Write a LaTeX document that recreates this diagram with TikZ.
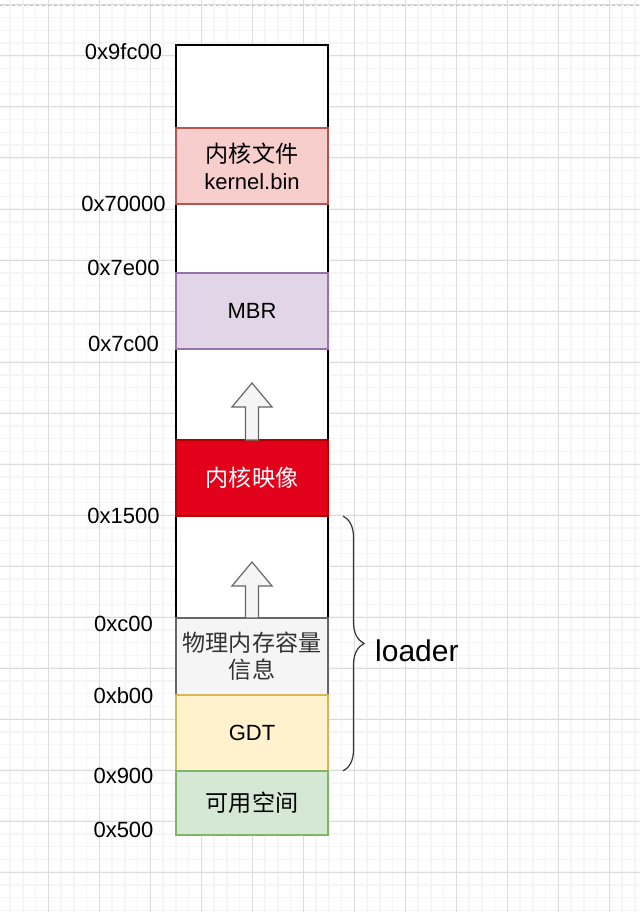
\documentclass[tikz,border=0pt]{standalone}
\usepackage{fontspec}
\setmainfont{Liberation Sans}
\newfontfamily\cjk[Scale=1.05]{Noto Sans CJK SC}
\usetikzlibrary{positioning,decorations.pathreplacing}
\definecolor{pinkfill}{HTML}{F8CECC}
\definecolor{pinkline}{HTML}{B85450}
\definecolor{purplefill}{HTML}{E1D5E7}
\definecolor{purpleline}{HTML}{9673A6}
\definecolor{redfill}{HTML}{E2001A}
\definecolor{redline}{HTML}{B20000}
\definecolor{grayfill}{HTML}{F5F5F5}
\definecolor{grayline}{HTML}{666666}
\definecolor{graytext}{HTML}{333333}
\definecolor{yellowfill}{HTML}{FFF2CC}
\definecolor{yellowline}{HTML}{D6B656}
\definecolor{greenfill}{HTML}{D5E8D4}
\definecolor{greenline}{HTML}{82B366}
\definecolor{gridminor}{HTML}{F5F5F5}
\definecolor{gridmajor}{HTML}{DCDCDC}
\pgfdeclarelayer{bg}
\pgfsetlayers{bg,main}
\tikzstyle{seg} = [rectangle, minimum width=152pt, minimum height=76pt, inner sep=0pt, outer sep=0pt, line width=1.2pt, text centered, align=center, font=\fontsize{22}{27}\selectfont]
\tikzstyle{free} = [seg, draw=black, fill=white]
\tikzstyle{pinkseg} = [seg, draw=pinkline, fill=pinkfill]
\tikzstyle{purpleseg} = [seg, draw=purpleline, fill=purplefill]
\tikzstyle{redseg} = [seg, draw=redline, fill=redfill, text=white]
\tikzstyle{grayseg} = [seg, draw=grayline, fill=grayfill, text=graytext]
\tikzstyle{yellowseg} = [seg, draw=yellowline, fill=yellowfill]
\tikzstyle{greenseg} = [seg, draw=greenline, fill=greenfill]
\tikzstyle{addr} = [inner sep=0pt, font=\fontsize{22}{27}\selectfont]
\tikzstyle{blockarrow} = [draw=grayline, fill=grayfill, line width=1.2pt]
\tikzstyle{bracket} = [draw=graytext, line width=1.2pt, decorate, decoration={brace, amplitude=21pt}]

\begin{document}
\begin{tikzpicture}[x=1pt, y=-1pt]
\useasboundingbox (0,0) rectangle (640,912);

\begin{pgfonlayer}{bg}
\fill[white] (0,0) rectangle (640,912);
% grid
\foreach \i in {0,...,51} \draw[gridminor, line width=1.5pt] ({-2.7+12.75*\i},0) -- ++(0,912);
\foreach \j in {0,...,71} \draw[gridminor, line width=1.5pt] (0,{5+12.75*\j}) -- ++(640,0);
\foreach \i in {0,...,12} \draw[gridmajor, line width=1pt] ({-2.7+51*\i},0) -- ++(0,912);
\foreach \j in {0,...,17} \draw[gridmajor, line width=1pt] (0,{5+51*\j}) -- ++(640,0);
\draw[gray!50, dashed, line width=1pt] (0,6) -- (640,6);

% empty parts of the column
\node (free1) [free, minimum height=83pt, anchor=north] at (252,45) {};
\end{pgfonlayer}
\node (kfile) [pinkseg, below=0pt of free1] {{\cjk 内核文件}\\kernel.bin};
\begin{pgfonlayer}{bg}
\node (free2) [free, minimum height=69pt, below=0pt of kfile] {};
\end{pgfonlayer}
\node (mbr) [purpleseg, below=0pt of free2] {MBR};
\begin{pgfonlayer}{bg}
\node (free3) [free, minimum height=91pt, below=0pt of mbr] {};
\end{pgfonlayer}
\node (kimg) [redseg, below=0pt of free3] {\cjk 内核映像};
\begin{pgfonlayer}{bg}
\node (free4) [free, minimum height=102pt, below=0pt of kimg] {};
\end{pgfonlayer}
\node (meminfo) [grayseg, minimum height=77pt, below=0pt of free4] {\cjk 物理内存容量\\\cjk 信息};
\node (gdt) [yellowseg, below=0pt of meminfo] {GDT};
\node (avail) [greenseg, minimum height=64pt, below=0pt of gdt] {\cjk 可用空间};

% addresses
\node (addr1) [addr] at ([xshift=-52.5pt, yshift=-6.7pt]free1.north west) {0x9fc00};
\node (addr2) [addr] at ([xshift=-52.5pt]kfile.south west) {0x70000};
\node (addr3) [addr] at ([xshift=-52.5pt, yshift=5.5pt]mbr.north west) {0x7e00};
\node (addr4) [addr] at ([xshift=-52.5pt, yshift=5.5pt]mbr.south west) {0x7c00};
\node (addr5) [addr] at ([xshift=-52.5pt]kimg.south west) {0x1500};
\node (addr6) [addr] at ([xshift=-52.5pt, yshift=-6pt]meminfo.north west) {0xc00};
\node (addr7) [addr] at ([xshift=-52.5pt, yshift=-1pt]meminfo.south west) {0xb00};
\node (addr8) [addr] at ([xshift=-52.5pt, yshift=-5pt]avail.north west) {0x900};
\node (addr9) [addr] at ([xshift=-52.5pt, yshift=5pt]avail.south west) {0x500};

% moves
\draw [blockarrow] (kimg.north) ++(-6.5,0) -- ++(0,-33) -- ++(-13.5,0) -- ++(20,-24) -- ++(20,24) -- ++(-13.5,0) -- ++(0,33) -- cycle;
\draw [blockarrow] (meminfo.north) ++(-6.5,0) -- ++(0,-32) -- ++(-13.5,0) -- ++(20,-24) -- ++(20,24) -- ++(-13.5,0) -- ++(0,32) -- cycle;

% loader range
\draw [bracket] ([xshift=15pt]free4.north east) -- ([xshift=15pt]gdt.south east);
\node (ldr) [anchor=west, inner sep=0pt, font=\fontsize{30}{36}\selectfont] at (375,651) {loader};

\end{tikzpicture}
\end{document}
